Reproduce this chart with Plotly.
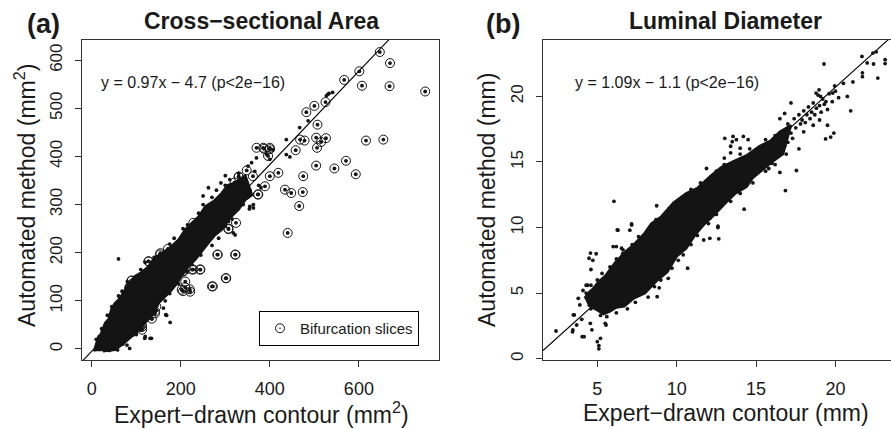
import plotly.graph_objects as go

W, H = 891, 429
ML, MR, MT, MB = 0, 0, 40, 69
PH = H - MT - MB

# ---------------- Panel (a): cross-sectional area (mm^2) ----------------
a_slope, a_icpt = 0.97, -4.7
a_eq = "y = 0.97x \u2212 4.7 (p<2e\u221216)"
a_xticks = [0, 200, 400, 600]
a_yticks = [0, 100, 200, 300, 400, 500, 600]

# outline of the dense (saturated) core of the point cloud
a_core_x = [5, 10, 15, 20, 30, 38, 45, 52, 62, 75, 85, 97, 110, 127, 140, 157, 175, 195,
            210, 225, 240, 255, 275, 292, 305, 320, 345,
            360, 345, 330, 310, 292, 275, 262, 245, 232, 215, 202, 190, 180, 165, 150, 138,
            120, 105, 90, 70, 52, 25]
a_core_y = [-5, 12, 26, 30, 54, 62, 85, 95, 104, 123, 138, 151, 158, 171, 188, 199, 210, 227,
            248, 262, 275, 296, 308, 324, 340, 345, 360,
            320, 310, 290, 272, 248, 235, 220, 200, 185, 170, 151, 135, 123, 110, 95, 72,
            54, 40, 26, 10, -2, -5]

# individual (non-bifurcation) dots outside / on the edge of the core
a_dot_x = [60, 176, 166, 119, 134, 85, 58, 131, 120, 79, 161, 168, 322, 363, 354, 307, 318,
           541, 533, 527, 530, 486, 467, 437, 445, 407, 370, 393, 400, 437, 351, 359, 366,
           355, 363, 375, 380,
           10, 22, 35, 45, 60, 68, 80, 110, 120, 140, 175, 185, 205, 215, 240, 250, 270, 280,
           300, 310, 330,
           40, 70, 100, 110, 135, 145, 165, 175, 195, 215, 225, 245, 270, 285, 300, 315, 340,
           350, 355, 290, 300, 262, 250]
a_dot_y = [187, 55, 71, 22, 22, 1, -2, 22, 26, 8, 85, 70, 237, 293, 291, 265, 241,
           533, 531, 526, 529, 474, 460, 435, 399, 414, 397, 404, 394, 404, 380, 387, 369,
           296, 300, 340, 335,
           20, 42, 70, 88, 110, 120, 140, 165, 180, 190, 218, 230, 250, 258, 282, 300, 315, 330,
           340, 352, 365,
           -3, 10, 30, 40, 62, 80, 100, 115, 135, 160, 175, 195, 215, 230, 255, 270, 300,
           315, 330, 345, 360, 335, 318]

# bifurcation slices (circled points)
a_bif_x = [647, 670, 601, 567, 607, 669, 749, 525, 500, 482, 507, 468, 478, 504, 526, 515,
           506, 616, 655, 458, 387, 370, 385, 400, 571, 504, 545, 593, 475, 434, 448, 474, 466,
           330, 374, 440, 283, 323, 228, 244, 301, 270, 210, 210, 205, 220, 128, 89, 86, 84,
           307, 324, 93, 113, 113, 127, 142, 145, 138, 153, 168, 183, 203, 211, 145, 153, 183,
           216, 228, 239, 90, 85, 96, 127, 154, 171, 225, 206, 225, 243, 202, 221, 282, 322,
           302, 272, 307, 373, 330, 321, 348, 362, 389, 400, 419, 396, 400, 135, 142, 112, 108]
a_bif_y = [617, 594, 577, 559, 547, 546, 535, 513, 505, 492, 466, 435, 433, 439, 438, 430,
           418, 433, 435, 413, 416, 418, 418, 418, 391, 381, 375, 363, 359, 331, 324, 326, 297,
           358, 321, 241, 196, 196, 165, 165, 147, 130, 140, 128, 120, 124, 182, 142, 130, 127,
           250, 262, 36, 40, 46, 74, 78, 88, 98, 112, 133, 147, 161, 168, 178, 196, 206,
           241, 262, 224, 142, 128, 130, 182, 199, 208, 241, 161, 165, 165, 123, 119, 196, 196,
           147, 130, 249, 321, 358, 346, 371, 359, 338, 359, 366, 401, 415, 63, 74, 50, 45]

# ---------------- Panel (b): luminal diameter (mm) ----------------
b_slope, b_icpt = 1.09, -1.1
b_eq = "y = 1.09x \u2212 1.1 (p<2e\u221216)"
b_xticks = [5, 10, 15, 20]
b_yticks = [0, 5, 10, 15, 20]

b_core_x = [4.2, 4.5, 4.7, 5.1, 5.5, 6.1, 6.8, 7.3, 8.0, 8.4, 9.0, 9.8, 10.6, 11.3, 12.1,
            12.8, 13.5, 14.4, 15.2, 15.9, 16.5, 17.2,
            16.7, 16.0, 15.2, 14.8, 14.4, 13.7, 13.1, 12.4, 11.7, 11.2, 10.6, 10.0, 9.4, 8.8,
            8.0, 7.3, 6.7, 6.2, 5.8, 5.4, 5.0, 4.4]
b_core_y = [4.6, 5.1, 5.3, 5.9, 6.3, 7.3, 8.2, 8.7, 9.6, 10.3, 10.8, 11.9, 12.6, 13.0, 13.9,
            14.6, 15.0, 15.5, 16.2, 16.6, 17.3, 17.8,
            15.6, 15.0, 14.2, 13.8, 13.1, 12.6, 11.9, 11.0, 10.2, 9.5, 8.4, 7.8, 6.6, 6.0,
            5.0, 4.6, 4.0, 3.9, 3.6, 3.4, 3.7, 4.1]

b_dot_x = [2.40, 3.49, 3.46, 4.02, 4.05, 3.70, 4.48, 4.57, 4.30, 3.80, 3.90, 4.56, 4.66, 5.0,
           5.1, 5.1, 5.2, 5.5, 5.55, 6.26, 6.0, 6.53, 7.16, 7.6, 8.03, 8.77, 9.47, 10.41, 10.69,
           8.9, 12.09, 12.65, 12.6, 12.09, 6.05, 8.74, 7.16, 6.3, 7.05, 6.2, 6.62, 4.93, 4.72,
           4.6, 4.39, 4.1, 14.25, 12.6, 11.7, 13.4, 14.45, 3.55, 3.44, 4.17,
           19.28, 21.67, 22.36, 22.57, 22.0, 22.4, 23.13, 23.13, 21.7, 21.7, 22.67, 21.1, 20.5,
           19.95, 20.75, 20.96, 19.5, 19.38, 19.7, 19.9, 17.54, 16.85, 16.5, 17.7, 17.2, 16.5,
           16.8, 13.03, 13.55, 13.76, 13.5, 13.4, 14.0, 14.2, 14.5, 13.0, 11.88, 16.0, 15.8,
           18.78, 18.97, 19.06, 19.4, 19.83,
           17.0, 17.2, 17.4, 17.5, 17.7, 17.8, 17.9, 18.0, 18.1, 18.2, 18.3, 18.4, 18.5, 18.6,
           18.7, 18.8, 18.9, 19.0, 19.1, 19.2, 19.3, 19.5, 19.6, 19.8, 20.0, 20.2, 18.0, 18.6,
           19.0, 17.3, 17.0, 16.8,
           4.3, 4.6, 5.0, 5.3, 5.8, 6.2, 6.6, 7.2, 7.6, 8.3, 8.7, 9.5, 10.0, 10.9, 11.5, 12.5,
           13.0, 14.0, 14.6, 15.6, 16.2,
           4.6, 5.2, 5.6, 6.2, 6.9, 7.4, 8.2, 8.6, 9.0, 9.7, 10.1, 10.9, 11.3, 12.0, 12.5, 13.4,
           14.0, 14.8, 15.6, 16.2, 16.9]
b_dot_y = [2.11, 3.34, 2.19, 3.0, 1.68, 2.57, 7.66, 8.05, 5.6, 4.6, 4.1, 2.7, 2.2, 1.3,
           1.0, 0.75, 1.55, 2.7, 2.57, 9.82, 8.55, 8.42, 10.2, 7.9, 6.39, 4.73, 6.13, 7.92, 6.9,
           5.4, 9.18, 9.14, 10.0, 10.7, 12.0, 11.66, 10.27, 9.8, 9.8, 8.55, 8.3, 8.0, 7.5,
           6.8, 5.6, 5.2, 11.4, 10.1, 9.05, 15.7, 14.9, 3.34, 2.05, 1.68,
           22.47, 23.05, 23.3, 23.4, 22.55, 22.47, 22.8, 22.5, 21.8, 21.5, 21.4, 21.1, 21.0,
           20.8, 20.0, 18.9, 17.8, 16.76, 16.9, 17.2, 14.35, 12.82, 14.2, 16.0, 19.5, 18.3,
           18.7, 16.8, 16.95, 16.7, 16.55, 16.2, 16.05, 16.95, 16.7, 15.3, 14.5, 14.9, 14.5,
           20.25, 20.5, 20.0, 19.6, 20.25,
           17.9, 17.2, 18.3, 17.6, 18.6, 17.9, 18.2, 18.9, 18.0, 18.6, 19.2, 18.3, 18.8, 19.5,
           18.6, 19.1, 20.1, 19.3, 18.8, 19.8, 19.4, 19.0, 20.2, 19.6, 20.4, 19.9, 17.3, 17.8,
           18.2, 16.8, 16.5, 16.2,
           5.0, 5.6, 6.0, 6.5, 7.0, 7.6, 8.0, 8.7, 9.3, 10.0, 10.6, 11.4, 11.9, 12.9, 13.4, 14.3,
           14.8, 15.6, 16.0, 16.7, 17.0,
           3.8, 3.3, 3.2, 3.5, 3.8, 4.3, 4.7, 5.5, 6.0, 6.9, 7.5, 8.7, 9.4, 10.3, 11.0, 12.0,
           12.6, 13.4, 14.3, 14.8, 15.6]

# ---------------- styling ----------------
INK = "#141414"
FONT = "Liberation Sans, Arial, Helvetica, sans-serif"
DOT = 3.8

a_xrange = [-22, 780]
a_yrange = [-23, 642]
b_xrange = [1.58, 23.5]
b_yrange = [-0.1, 24.3]

fig = go.Figure()

# panel (a)
fig.add_trace(go.Scatter(x=a_xrange, y=[a_slope * v + a_icpt for v in a_xrange],
                         mode="lines", line=dict(color="black", width=1.1),
                         showlegend=False, xaxis="x", yaxis="y"))
fig.add_trace(go.Scatter(x=a_core_x, y=a_core_y, mode="lines", fill="toself",
                         fillcolor=INK, line=dict(color=INK, width=2.5),
                         hoverinfo="skip", showlegend=False, xaxis="x", yaxis="y"))
fig.add_trace(go.Scatter(x=a_dot_x, y=a_dot_y, mode="markers",
                         marker=dict(color=INK, size=DOT), showlegend=False,
                         xaxis="x", yaxis="y"))
fig.add_trace(go.Scatter(x=a_bif_x, y=a_bif_y, mode="markers",
                         marker=dict(color=INK, size=DOT), showlegend=False,
                         xaxis="x", yaxis="y"))
fig.add_trace(go.Scatter(x=a_bif_x, y=a_bif_y, mode="markers", name="Bifurcation slices",
                         marker=dict(symbol="circle-open-dot", size=9, color=INK,
                                     line=dict(width=1, color=INK)),
                         showlegend=True, xaxis="x", yaxis="y"))

# panel (b)
fig.add_trace(go.Scatter(x=b_xrange, y=[b_slope * v + b_icpt for v in b_xrange],
                         mode="lines", line=dict(color="black", width=1.1),
                         showlegend=False, xaxis="x2", yaxis="y2"))
fig.add_trace(go.Scatter(x=b_core_x, y=b_core_y, mode="lines", fill="toself",
                         fillcolor=INK, line=dict(color=INK, width=2.5),
                         hoverinfo="skip", showlegend=False, xaxis="x2", yaxis="y2"))
fig.add_trace(go.Scatter(x=b_dot_x, y=b_dot_y, mode="markers",
                         marker=dict(color=INK, size=DOT), showlegend=False,
                         xaxis="x2", yaxis="y2"))

axis_common = dict(showgrid=False, zeroline=False, showline=True, linecolor="#333333",
                   linewidth=1, ticks="outside", ticklen=6, tickcolor="#333333",
                   tickwidth=1, ticklabelstandoff=6)

fig.update_layout(
    width=W, height=H,
    margin=dict(l=ML, r=MR, t=MT, b=MB),
    paper_bgcolor="white", plot_bgcolor="white",
    font=dict(family=FONT, color="#1a1a1a"),
    xaxis=dict(domain=[82 / W, 439 / W], range=a_xrange, tickvals=a_xticks,
               mirror=True, tickfont=dict(size=18), anchor="y", **axis_common),
    yaxis=dict(domain=[0, 1], range=a_yrange, tickvals=a_yticks, tickangle=-90,
               mirror=True, tickfont=dict(size=17), anchor="x", **axis_common),
    xaxis2=dict(domain=[543 / W, 1.0], range=b_xrange, tickvals=b_xticks,
                mirror=True, tickfont=dict(size=18), anchor="y2", **axis_common),
    yaxis2=dict(domain=[0, 1], range=b_yrange, tickvals=b_yticks, tickangle=-90,
                mirror=False, tickfont=dict(size=17), anchor="x2", **axis_common),
    showlegend=True,
    legend=dict(x=419 / W, xanchor="right", y=(360 - 311) / PH, yanchor="top",
                bordercolor="black", borderwidth=1, bgcolor="white",
                font=dict(size=15, color="#1a1a1a"), itemwidth=30,
                tracegroupgap=0),
)

def px2paper_x(px):
    return (px - ML) / (W - ML - MR)

def py2paper_y(py):
    return (H - MB - py) / PH

ann = []
ann.append(dict(text="<b>(a)</b>", x=px2paper_x(43), y=py2paper_y(24), xref="paper",
                yref="paper", showarrow=False, font=dict(size=27), xanchor="center",
                yanchor="middle"))
ann.append(dict(text="<b>(b)</b>", x=px2paper_x(503), y=py2paper_y(24), xref="paper",
                yref="paper", showarrow=False, font=dict(size=27), xanchor="center",
                yanchor="middle"))
ann.append(dict(text="<b>Cross\u2212sectional Area</b>", x=px2paper_x(261), y=py2paper_y(21),
                xref="paper", yref="paper", showarrow=False, font=dict(size=23),
                xanchor="center", yanchor="middle"))
ann.append(dict(text="<b>Luminal Diameter</b>", x=px2paper_x(725), y=py2paper_y(21),
                xref="paper", yref="paper", showarrow=False, font=dict(size=23),
                xanchor="center", yanchor="middle"))
ann.append(dict(text=a_eq, x=px2paper_x(99), y=py2paper_y(82), xref="paper", yref="paper",
                showarrow=False, font=dict(size=16), xanchor="left", yanchor="middle"))
ann.append(dict(text=b_eq, x=px2paper_x(573), y=py2paper_y(82), xref="paper", yref="paper",
                showarrow=False, font=dict(size=16), xanchor="left", yanchor="middle"))
ann.append(dict(text="Expert\u2212drawn contour (mm<sup>2</sup>)", x=px2paper_x(261),
                y=py2paper_y(413), xref="paper", yref="paper", showarrow=False,
                font=dict(size=23), xanchor="center", yanchor="middle"))
ann.append(dict(text="Expert\u2212drawn contour (mm)", x=px2paper_x(726),
                y=py2paper_y(413), xref="paper", yref="paper", showarrow=False,
                font=dict(size=23), xanchor="center", yanchor="middle"))
ann.append(dict(text="Automated method (mm<sup>2</sup>)", x=px2paper_x(25),
                y=py2paper_y(196), xref="paper", yref="paper", showarrow=False,
                font=dict(size=23), textangle=-90, xanchor="center", yanchor="middle"))
ann.append(dict(text="Automated method (mm)", x=px2paper_x(487),
                y=py2paper_y(200), xref="paper", yref="paper", showarrow=False,
                font=dict(size=23), textangle=-90, xanchor="center", yanchor="middle"))
fig.update_layout(annotations=ann)

fig.write_html("out.html")
